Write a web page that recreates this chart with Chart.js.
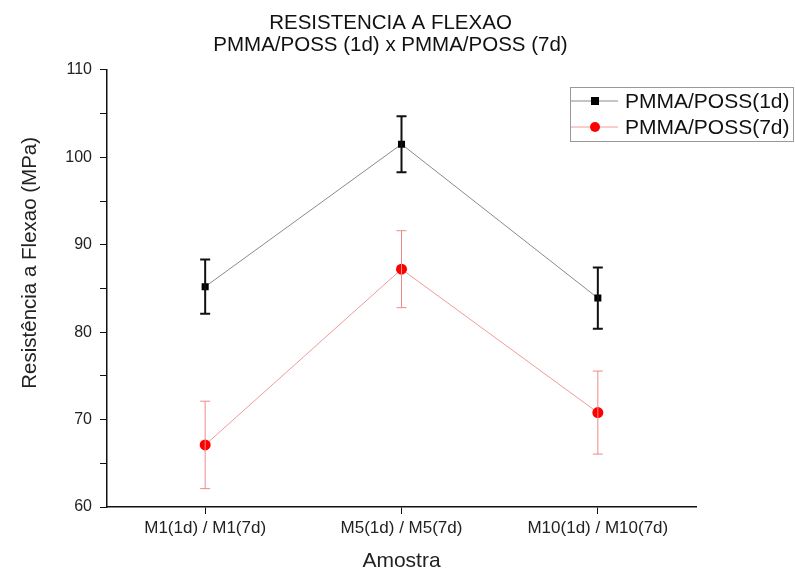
<!DOCTYPE html>
<html>
<head>
<meta charset="utf-8">
<script src="https://cdn.jsdelivr.net/npm/chart.js@4.4.1/dist/chart.umd.min.js"></script>
<style>
  html, body { margin: 0; padding: 0; background: #fff; }
  #wrap { width: 795px; height: 572px; }
</style>
</head>
<body>
<div id="wrap"><canvas id="myChart" width="795" height="572"></canvas></div>
<script>
var categories = ["M1(1d) / M1(7d)", "M5(1d) / M5(7d)", "M10(1d) / M10(7d)"];
var labels1d = "PMMA/POSS(1d)";
var labels7d = "PMMA/POSS(7d)";
var values1d = [85.2, 101.5, 83.9];
var err1d = [3.1, 3.2, 3.5];
var values7d = [67.1, 87.2, 70.8];
var err7d = [5.0, 4.4, 4.75];

var FONT = "'Liberation Sans', Arial, sans-serif";

// error bars drawn from data through the y scale
var errorBars = {
    id: 'errorBars',
    afterDatasetsDraw: function(chart){
        var ctx = chart.ctx;
        var y = chart.scales.y;
        chart.data.datasets.forEach(function(ds, i){
            var meta = chart.getDatasetMeta(i);
            ctx.save();
            ctx.strokeStyle = ds.errColor;
            ctx.lineWidth = ds.errWidth;
            meta.data.forEach(function(pt, j){
                var v = ds.data[j], e = ds.errors[j];
                var top = y.getPixelForValue(v + e);
                var bot = y.getPixelForValue(v - e);
                var x = pt.x, w = 5;
                ctx.beginPath();
                ctx.moveTo(x, top); ctx.lineTo(x, bot);
                ctx.moveTo(x - w, top); ctx.lineTo(x + w, top);
                ctx.moveTo(x - w, bot); ctx.lineTo(x + w, bot);
                ctx.stroke();
            });
            ctx.restore();
        });
    }
};

// boxed legend with line + marker sample
var boxLegend = {
    id: 'boxLegend',
    afterDraw: function(chart){
        var ctx = chart.ctx;
        var x0 = 570, y0 = 87, w = 223, h = 54;
        ctx.save();
        ctx.strokeStyle = '#999';
        ctx.lineWidth = 1;
        ctx.strokeRect(x0 + 0.5, y0 + 0.5, w, h);
        ctx.font = '21px ' + FONT;
        ctx.textBaseline = 'middle';
        chart.data.datasets.forEach(function(ds, i){
            var cy = y0 + 14 + i * 26;
            ctx.strokeStyle = ds.borderColor;
            ctx.lineWidth = 1;
            ctx.beginPath();
            ctx.moveTo(x0 + 1, cy); ctx.lineTo(x0 + 48, cy);
            ctx.stroke();
            ctx.fillStyle = ds.pointBackgroundColor;
            if (ds.pointStyle === 'rect') {
                ctx.fillRect(x0 + 21, cy - 4, 8, 8);
            } else {
                ctx.beginPath();
                ctx.arc(x0 + 25, cy, 5, 0, Math.PI * 2);
                ctx.fill();
            }
            ctx.fillStyle = '#111';
            ctx.fillText(ds.label, x0 + 55, cy + 1);
        });
        ctx.restore();
    }
};

var ctx = document.getElementById("myChart").getContext('2d');
var myChart = new Chart(ctx, {
    type: 'line',
    data: {
        labels: categories,
        datasets: [{
            label: labels1d,
            data: values1d,
            errors: err1d,
            errColor: '#111',
            errWidth: 2,
            borderColor: '#8a8a8a',
            borderWidth: 1,
            pointStyle: 'rect',
            pointRadius: 5,
            pointBackgroundColor: '#000',
            pointBorderColor: '#000',
            pointBorderWidth: 0
        }, {
            label: labels7d,
            data: values7d,
            errors: err7d,
            errColor: '#ee8a8a',
            errWidth: 1,
            borderColor: '#f09a9a',
            borderWidth: 1,
            pointStyle: 'circle',
            pointRadius: 5.5,
            pointBackgroundColor: '#ff0000',
            pointBorderColor: '#ff0000',
            pointBorderWidth: 0
        }]
    },
    options: {
        responsive: false,
        animation: false,
        layout: { padding: { left: 0, right: 14, top: 0, bottom: 0 } },
        plugins: {
            legend: { display: false },
            tooltip: { enabled: false },
            title: {
                display: true,
                text: ["RESISTENCIA A FLEXAO", "PMMA/POSS (1d) x PMMA/POSS (7d)"],
                color: '#111',
                font: { family: FONT, size: 20.5, weight: 'normal', lineHeight: 1.07 },
                padding: { top: 12, bottom: 14 }
            }
        },
        scales: {
            x: {
                offset: true,
                border: { display: true, color: '#111', width: 1.5 },
                grid: { drawOnChartArea: false, drawTicks: true, tickLength: 7, color: '#111' },
                ticks: { color: '#222', font: { family: FONT, size: 17 }, padding: 4, maxRotation: 0 },
                title: { display: true, text: 'Amostra', color: '#222', font: { family: FONT, size: 21, lineHeight: 1 }, padding: { top: 0, bottom: 0 } },
                afterFit: function(s){ s.height = 65; }
            },
            y: {
                min: 60, max: 110,
                border: { display: true, color: '#111', width: 1.5 },
                grid: { drawOnChartArea: false, drawTicks: true, tickLength: 7, color: '#111' },
                ticks: {
                    stepSize: 5,
                    color: '#222',
                    font: { family: FONT, size: 16 },
                    padding: 8,
                    callback: function(v){ return v % 10 === 0 ? v : ''; }
                },
                title: { display: true, text: '         Resistência a Flexao (MPa)', color: '#222', font: { family: FONT, size: 20.5, lineHeight: 1 }, padding: { top: 20, bottom: 0 } },
                afterFit: function(s){ s.width = 107; }
            },
            y2: {
                position: 'right',
                display: true,
                border: { display: false },
                grid: { display: false },
                ticks: { display: false },
                afterFit: function(s){ s.width = 85; }
            }
        }
    },
    plugins: [errorBars, boxLegend]
});
</script>
</body>
</html>
